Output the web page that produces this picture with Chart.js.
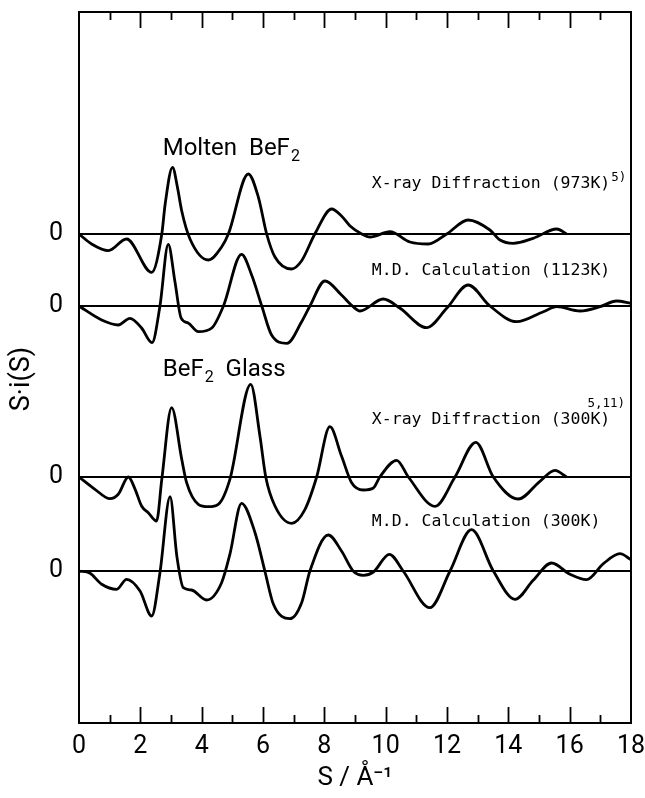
<!DOCTYPE html>
<html>
<head>
<meta charset="utf-8">
<script src="https://cdn.jsdelivr.net/npm/chart.js@4/dist/chart.umd.min.js"></script>
<style>
  html, body { margin: 0; padding: 0; background: #fff; }
  #chart { display: block; }
</style>
</head>
<body>
<canvas id="chart" width="645" height="798"></canvas>
<script>
// S values (1/Å) and S·i(S) (arbitrary units, relative to each curve's zero line)
const xrayMoltenS = [0, 0.41, 0.96, 1.55, 2.37, 2.70, 2.81, 3.05, 3.21, 3.35, 3.62, 4.22, 4.65, 4.87, 5.52, 5.85, 6.12, 6.39, 6.93, 7.26, 7.69, 8.24, 8.56, 8.84, 9.22, 9.49, 10.14, 10.79, 11.39, 11.99, 12.69, 13.40, 13.73, 14.16, 14.81, 15.58, 15.90];
const xrayMoltenY = [0, -10, -16.7, -5, -38.3, 0, 30, 66.7, 46.7, 23, -5, -26, -13, 0, 60, 36.7, 0, -23, -35, -26.7, 0, 25, 18, 8, 0, -3, 2.3, -8, -10, 0, 14, 4, -6, -9.3, -4.3, 5, 0];

const mdMoltenS = [0, 0.74, 1.28, 1.66, 2.04, 2.38, 2.64, 2.91, 3.13, 3.33, 3.56, 3.89, 4.33, 4.71, 5.30, 5.63, 5.96, 6.28, 6.78, 7.26, 7.53, 8.02, 8.56, 8.94, 9.16, 9.92, 10.47, 11.33, 11.99, 12.69, 13.40, 14.27, 15.14, 15.58, 16.34, 16.99, 17.53, 18];
const mdMoltenY = [0, -14, -19, -12.3, -22, -36.7, 0, 61.7, 24, -12, -17, -25.7, -22, 0, 51.7, 31, 0, -29, -37.3, -15.7, 0, 25, 11, -0.7, -5, 7, -2.3, -21.7, -2.3, 21, 0, -15.7, -5.7, -0.7, -5, -0.7, 5, 2.7];

const xrayGlassS = [0, 0.52, 1.01, 1.28, 1.61, 1.83, 2.04, 2.26, 2.53, 2.70, 3.02, 3.35, 3.51, 3.89, 4.22, 4.54, 4.92, 5.60, 5.90, 6.09, 6.39, 6.93, 7.37, 7.75, 8.18, 8.56, 8.89, 9.27, 9.60, 9.81, 10.36, 10.74, 11.61, 12.26, 12.94, 13.51, 14.32, 15.03, 15.52, 15.90];
const xrayGlassY = [0, -12.3, -21.7, -17.3, 0, -12.3, -29, -35.7, -44, -2.3, 69.3, 17.7, -5.7, -27.3, -29.7, -27.3, -2.3, 92.7, 41, 0, -29, -46.3, -32.3, 0, 50.3, 21, -5.7, -13, -11, 0, 16.7, 0, -29.3, 0, 34.7, 0, -22, -4.3, 6.7, 0];

const mdGlassS = [0, 0.36, 0.74, 1.23, 1.55, 1.99, 2.37, 2.64, 2.97, 3.19, 3.40, 3.67, 4.16, 4.65, 4.92, 5.30, 5.74, 6.06, 6.34, 6.88, 7.26, 7.53, 8.13, 8.56, 8.94, 9.27, 9.60, 10.12, 10.57, 11.44, 12.10, 12.80, 13.51, 14.22, 14.81, 15.41, 16.01, 16.55, 17.10, 17.64, 18];
const mdGlassY = [0, -2.3, -13.3, -18.3, -8.3, -20, -45, -1.7, 74.3, 15, -16.7, -19, -29, -11.7, 16.7, 67.7, 38.3, 0, -33.3, -47.7, -31.7, 0, 36, 20, 0, -4.3, -1, 16.7, 0, -36.7, 0, 41.3, 0, -28.3, -9.3, 8, -3.3, -8.7, 7.3, 17.3, 11.3];

// vertical offset of each curve's zero line
const curveOffsets = [489, 417, 246, 152];
const xTickLabels = ['0', '2', '4', '6', '8', '10', '12', '14', '16', '18'];
const X_MIN = 0, X_MAX = 18, Y_MIN = 0, Y_MAX = 711;

const sansFont = 'Roboto, "DejaVu Sans", sans-serif';
const monoFont = '"DejaVu Sans Mono", "Liberation Mono", monospace';

function toPoints(xs, ys, offset) {
    return xs.map((x, i) => ({ x: x, y: ys[i] + offset }));
}

function curve(xs, ys, offset) {
    return {
        data: toPoints(xs, ys, offset),
        showLine: true,
        borderColor: '#000',
        borderWidth: 2.8,
        pointRadius: 0,
        cubicInterpolationMode: 'monotone',
        fill: false
    };
}

function zeroLine(offset) {
    return {
        data: [{ x: X_MIN, y: offset }, { x: X_MAX, y: offset }],
        showLine: true,
        borderColor: '#000',
        borderWidth: 1.8,
        pointRadius: 0,
        fill: false
    };
}

// frame, inward ticks on top and bottom, captions
const decorations = {
    id: 'decorations',
    afterDraw(chart) {
        const { ctx, chartArea: a, scales: { x, y } } = chart;
        ctx.save();
        ctx.strokeStyle = '#000';
        ctx.lineWidth = 2;
        ctx.strokeRect(a.left, a.top, a.right - a.left, a.bottom - a.top);

        ctx.lineWidth = 1.8;
        for (let s = X_MIN + 1; s < X_MAX; s++) {
            const px = Math.round(x.getPixelForValue(s)) + 0.5;
            const len = s % 2 === 0 ? 16 : 8;
            ctx.beginPath();
            ctx.moveTo(px, a.bottom);
            ctx.lineTo(px, a.bottom - len);
            ctx.moveTo(px, a.top);
            ctx.lineTo(px, a.top + len);
            ctx.stroke();
        }

        ctx.fillStyle = '#000';
        ctx.textBaseline = 'alphabetic';
        ctx.textAlign = 'left';

        // headings with subscript 2
        const heading = (pre, post, sx, yv) => {
            let px = x.getPixelForValue(sx);
            const py = y.getPixelForValue(yv);
            ctx.font = '24px ' + sansFont;
            ctx.fillText(pre, px, py);
            px += ctx.measureText(pre).width;
            ctx.font = '16px ' + sansFont;
            ctx.fillText('2', px + 1, py + 6);
            px += ctx.measureText('2').width + 1;
            ctx.font = '24px ' + sansFont;
            ctx.fillText(post, px, py);
        };
        heading('Molten  BeF', '', 2.73, 568);
        heading('BeF', '  Glass', 2.73, 347);

        const label = (text, sx, yv) => {
            ctx.font = '16.5px ' + monoFont;
            ctx.fillText(text, x.getPixelForValue(sx), y.getPixelForValue(yv));
        };
        ctx.font = '16.5px ' + monoFont;
        const w973 = ctx.measureText('X-ray Diffraction (973K)').width;
        label('X-ray Diffraction (973K)', 9.55, 535);
        ctx.font = '12.5px ' + monoFont;
        ctx.fillText('5)', x.getPixelForValue(9.55) + w973 + 1, y.getPixelForValue(535) - 7);
        label('M.D. Calculation (1123K)', 9.55, 448);
        label('X-ray Diffraction (300K)', 9.55, 299);
        ctx.font = '12.5px ' + monoFont;
        ctx.fillText('5,11)', x.getPixelForValue(16.58), y.getPixelForValue(316));
        label('M.D. Calculation (300K)', 9.55, 197);

        // y axis title
        ctx.font = '27px ' + sansFont;
        ctx.textAlign = 'center';
        ctx.textBaseline = 'middle';
        ctx.translate(22, y.getPixelForValue(344));
        ctx.rotate(-Math.PI / 2);
        ctx.fillText('S\u00B7i(S)', 0, 0);
        ctx.restore();
    }
};

new Chart(document.getElementById('chart'), {
    type: 'scatter',
    data: {
        datasets: [
            zeroLine(curveOffsets[0]),
            zeroLine(curveOffsets[1]),
            zeroLine(curveOffsets[2]),
            zeroLine(curveOffsets[3]),
            curve(xrayMoltenS, xrayMoltenY, curveOffsets[0]),
            curve(mdMoltenS, mdMoltenY, curveOffsets[1]),
            curve(xrayGlassS, xrayGlassY, curveOffsets[2]),
            curve(mdGlassS, mdGlassY, curveOffsets[3])
        ]
    },
    options: {
        responsive: false,
        animation: false,
        layout: { padding: { top: 12, right: 14, left: 0, bottom: 0 } },
        plugins: { legend: { display: false }, tooltip: { enabled: false } },
        scales: {
            x: {
                type: 'linear',
                min: X_MIN,
                max: X_MAX,
                grid: { display: false, drawTicks: false },
                border: { display: false },
                afterBuildTicks: s => { s.ticks = xTickLabels.map(t => ({ value: Number(t) })); },
                ticks: {
                    callback: v => String(v),
                    color: '#000',
                    font: { size: 25, family: sansFont },
                    padding: 9,
                    maxRotation: 0,
                    autoSkip: false
                },
                title: {
                    display: true,
                    text: 'S / \u00C5\u207B\u00B9',
                    color: '#000',
                    font: { size: 26, family: sansFont },
                    padding: { top: 0, bottom: 4 }
                },
                afterFit: s => {
                    s.height = 75;
                    s.paddingLeft = 0;
                    s.paddingRight = 0;
                }
            },
            y: {
                type: 'linear',
                min: Y_MIN,
                max: Y_MAX,
                grid: { display: false, drawTicks: false },
                border: { display: false },
                afterBuildTicks: s => { s.ticks = curveOffsets.map(v => ({ value: v })); },
                ticks: {
                    callback: () => '0',
                    color: '#000',
                    font: { size: 25, family: sansFont },
                    padding: 16
                },
                afterFit: s => {
                    s.width = 79;
                    s.paddingTop = 0;
                    s.paddingBottom = 0;
                }
            }
        }
    },
    plugins: [decorations]
});
</script>
</body>
</html>
